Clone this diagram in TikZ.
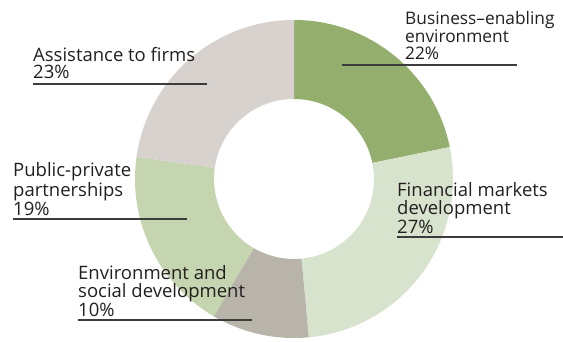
\documentclass[tikz,border=0pt]{standalone}
\usepackage{fontspec}
\setmainfont{Open Sans}
\usetikzlibrary{calc}
\definecolor{bizgreen}{HTML}{94AF6D}
\definecolor{fingreen}{HTML}{D8E3CD}
\definecolor{envtaupe}{HTML}{B9B4A9}
\definecolor{pppgreen}{HTML}{C5D5AF}
\definecolor{firmgrey}{HTML}{D7D2CD}
\definecolor{labelink}{HTML}{231F20}
\definecolor{ruleink}{HTML}{3C3C3C}
\def\ringslice[#1](#2)(#3:#4){\fill[#1] ($(#2)+(#3:159)$) arc (#3:#4:159) -- ($(#2)+(#4:80)$) arc (#4:#3:80) -- cycle;}
\tikzset{
	share/.style={anchor=south west, align=left, inner xsep=0pt, inner ysep=5pt,
		text=labelink, font=\fontsize{18.5}{17.5}\selectfont},
	rule/.style={line width=1.2pt, color=ruleink}
}

\begin{document}
\begin{tikzpicture}[x=1pt, y=1pt]
		%%%%% RING %%%%%
		\useasboundingbox (0, 0) rectangle (563, 341);
		\coordinate (hub) at (294, 162);
		
		\ringslice[bizgreen](hub)(90:11.58)
		\ringslice[fingreen](hub)(11.58:-84.65)
		\ringslice[envtaupe](hub)(-84.65:-120.30)
		\ringslice[pppgreen](hub)(-120.30:-188.02)
		\ringslice[firmgrey](hub)(-188.02:-270)
		
		%%%%% LABELS %%%%%
		\coordinate (biz rule) at (342, 276);
		\coordinate (biz end) at (517, 276);
		\node[share, font=\fontsize{17.3}{17.5}\selectfont] (biz) at (405, 276) {Business–enabling\\environment\\22\%};
		\draw[rule] (biz rule) -- (biz end);
		
		\coordinate (fin end) at (563, 104);
		\node[share, inner ysep=3.5pt] (fin) at (397, 104) {Financial markets\\development\\27\%};
		\draw[rule] (fin.south west) -- (fin end);
		
		\coordinate (env end) at (252, 21);
		\node[share, inner ysep=3.5pt] (env) at (78, 21) {Environment and\\social development\\10\%};
		\draw[rule] (env.south west) -- (env end);
		
		\coordinate (ppp end) at (187, 122);
		\node[share, inner ysep=3.5pt] (ppp) at (13, 122) {Public-private\\partnerships\\19\%};
		\draw[rule] (ppp.south west) -- (ppp end);
		
		\coordinate (firm end) at (207, 257);
		\node[share] (firm) at (33, 257) {Assistance to firms\\23\%};
		\draw[rule] (firm.south west) -- (firm end);
		
		%%%%% END %%%%%
\end{tikzpicture}
\end{document}
